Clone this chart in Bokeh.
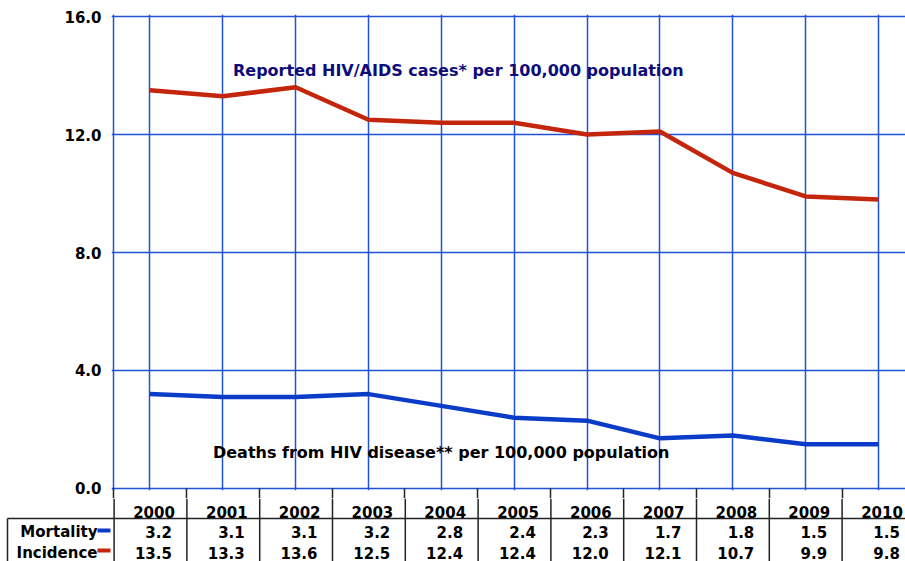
from bokeh.plotting import figure
from bokeh.models import Range1d, FixedTicker, NumeralTickFormatter, Label
from bokeh.core.properties import value
from bokeh.embed import file_html
from bokeh.resources import INLINE

years = [2000, 2001, 2002, 2003, 2004, 2005, 2006, 2007, 2008, 2009, 2010]
mortality = [3.2, 3.1, 3.1, 3.2, 2.8, 2.4, 2.3, 1.7, 1.8, 1.5, 1.5]
incidence = [13.5, 13.3, 13.6, 12.5, 12.4, 12.4, 12.0, 12.1, 10.7, 9.9, 9.8]
y_ticks = [0, 4, 8, 12, 16]
row_labels = ["Mortality", "Incidence"]
incidence_note = "Reported HIV/AIDS cases* per 100,000 population"
mortality_note = "Deaths from HIV disease** per 100,000 population"

RED = "#c4260c"
BLUE = "#0a3cc8"
GRID = "#1f52d4"
NAVY = "#0c0c7a"
LINE = "#222222"
FONT = "DejaVu Sans"

PX = 72.8  # pixels per year
W = 905
x_end = 2000 + (W - 150) / PX
bounds = [y - 0.5 for y in years]

p = figure(width=W, height=498,
           x_range=Range1d(2000 - 0.5 - 2 / PX, x_end),
           y_range=Range1d(-0.068, 16.068),
           output_backend="svg", toolbar_location=None,
           min_border_left=111, min_border_right=0,
           min_border_top=14, min_border_bottom=8)
p.outline_line_color = None
p.xgrid.ticker = FixedTicker(ticks=[years[0] - 0.5] + years)
p.ygrid.ticker = FixedTicker(ticks=y_ticks)
for g in (p.xgrid, p.ygrid):
    g.grid_line_color = GRID
    g.grid_line_width = 1.5
    g.grid_line_alpha = 1.0

# x axis: no labels, its minor ticks start the table's column separators
xa = p.xaxis[0]
xa.ticker = FixedTicker(ticks=[], minor_ticks=bounds)
xa.axis_line_color = None
xa.major_tick_line_color = None
xa.major_tick_out = 0
xa.major_label_standoff = 0
xa.minor_tick_line_color = LINE
xa.minor_tick_line_width = 1.5
xa.minor_tick_in = 2
xa.minor_tick_out = 8

ax = p.yaxis[0]
ax.ticker = FixedTicker(ticks=y_ticks)
ax.formatter = NumeralTickFormatter(format="0.0")
ax.axis_line_color = None
ax.major_tick_line_color = None
ax.minor_tick_line_color = None
ax.major_tick_out = 0
ax.major_tick_in = 0
ax.major_label_standoff = 10
ax.major_label_text_font = FONT
ax.major_label_text_font_style = "bold"
ax.major_label_text_font_size = "15px"
ax.major_label_text_color = "black"

p.line(years, incidence, line_color=RED, line_width=4.5)
p.line(years, mortality, line_color=BLUE, line_width=4.5)

p.add_layout(Label(x=2001.14, y=14.17, text=incidence_note, text_font=FONT,
                   text_font_style="bold", text_font_size="16px",
                   text_color=NAVY, text_baseline="middle"))
p.add_layout(Label(x=2000.865, y=1.22, text=mortality_note, text_font=FONT,
                   text_font_style="bold", text_font_size="16px",
                   text_color="black", text_baseline="middle"))

# data table below the chart
TH = 63
t_x0 = 2000 - 150 / PX
t = figure(width=W, height=TH,
           x_range=Range1d(t_x0, x_end), y_range=Range1d(TH, 0),
           output_backend="svg", toolbar_location=None,
           min_border_left=0, min_border_right=0,
           min_border_top=0, min_border_bottom=0)
t.outline_line_color = None
t.axis.visible = False
t.grid.visible = False

t.segment(x0=bounds, y0=[0] * len(bounds), x1=bounds, y1=[TH] * len(bounds),
          line_color=LINE, line_width=1.5)
left_x = t_x0 + 7 / PX
t.segment(x0=[left_x], y0=[20], x1=[x_end], y1=[20], line_color=LINE, line_width=1.5)
t.segment(x0=[left_x], y0=[20], x1=[left_x], y1=[TH], line_color=LINE, line_width=1.5)

HEADER_Y, MORT_Y, INC_Y = 13, 33, 54
t.text(x=[y + 0.5 - 12 / PX for y in years], y=[HEADER_Y] * len(years),
       text=[str(y) for y in years], text_font=value(FONT), text_font_style="bold",
       text_font_size="15px", text_align="right", text_baseline="middle", text_color="black")
t.text(x=[y + 0.5 - 15 / PX for y in years], y=[MORT_Y] * len(years),
       text=[f"{v:.1f}" for v in mortality], text_font=value(FONT), text_font_style="bold",
       text_font_size="15px", text_align="right", text_baseline="middle", text_color="black")
t.text(x=[y + 0.5 - 15 / PX for y in years], y=[INC_Y] * len(years),
       text=[f"{v:.1f}" for v in incidence], text_font=value(FONT), text_font_style="bold",
       text_font_size="15px", text_align="right", text_baseline="middle", text_color="black")

lab_x = 2000 - 53 / PX
bar_x1 = 2000 - 40 / PX
t.text(x=[lab_x, lab_x], y=[MORT_Y, INC_Y], text=row_labels, text_font=value(FONT),
       text_font_style="bold", text_font_size="15px", text_align="right",
       text_baseline="middle", text_color="black")
t.segment(x0=[lab_x, lab_x], y0=[MORT_Y - 1, INC_Y - 2], x1=[bar_x1, bar_x1], y1=[MORT_Y - 1, INC_Y - 2],
          line_color=[BLUE, RED], line_width=4)

open("out.html", "w").write(file_html([p, t], INLINE))
